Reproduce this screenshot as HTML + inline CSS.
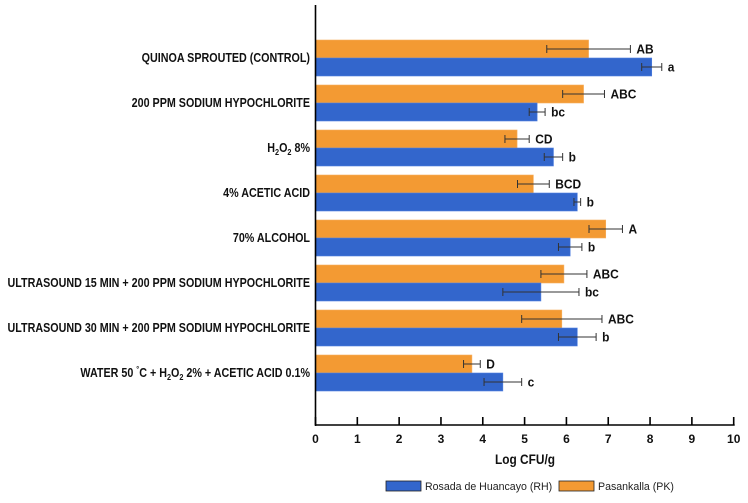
<!DOCTYPE html>
<html><head><meta charset="utf-8"><style>
body{margin:0;background:#fff;}
svg{display:block;font-family:"Liberation Sans",Arial,sans-serif;}
</style></head><body>
<svg id="chart" width="748" height="503"></svg>
<script>
const categories=["QUINOA SPROUTED (CONTROL)","200 PPM SODIUM HYPOCHLORITE","H2O2 8%","4% ACETIC ACID","70% ALCOHOL","ULTRASOUND 15 MIN + 200 PPM SODIUM HYPOCHLORITE","ULTRASOUND 30 MIN + 200 PPM SODIUM HYPOCHLORITE","WATER"];
const pkValues=[6.53,6.41,4.82,5.21,6.94,5.94,5.89,3.74];
const pkErr=[1.0,0.5,0.29,0.38,0.4,0.55,0.96,0.2];
const pkLetters=["AB","ABC","CD","BCD","A","ABC","ABC","D"];
const rhValues=[8.04,5.30,5.69,6.26,6.09,5.39,6.26,4.48];
const rhErr=[0.24,0.19,0.22,0.08,0.28,0.91,0.45,0.45];
const rhLetters=["a","bc","b","b","b","bc","b","c"];
const xTicks=[0,1,2,3,4,5,6,7,8,9,10];

const NS="http://www.w3.org/2000/svg";
const svg=document.getElementById('chart');
const x0=315.5,x1=733.7,axisY=425;
const xs=v=>x0+(x1-x0)*v/10;
const rowTop=i=>40+45*i;
function mk(tag,attrs,parent){const e=document.createElementNS(NS,tag);for(const k in attrs)e.setAttribute(k,attrs[k]);(parent||svg).appendChild(e);return e;}

function drawSeries(vals,errs,letters,off,color,stroke,name){
  vals.forEach((v,i)=>{
    const y=rowTop(i)+off;
    const r=mk('rect',{x:xs(0),y:y,width:xs(v)-xs(0),height:18,fill:color,stroke:stroke,'stroke-width':0.6});
    
    
    const lo=xs(v-errs[i]),hi=xs(v+errs[i]),cy=y+9;
    const g=mk('g',{stroke:'#333','stroke-width':1});
    
    
    mk('line',{x1:lo,x2:hi,y1:cy,y2:cy},g);
    mk('line',{x1:lo,x2:lo,y1:cy-4,y2:cy+4},g);
    mk('line',{x1:hi,x2:hi,y1:cy-4,y2:cy+4},g);
    const tg=mk('g',{transform:`translate(${hi+6},${cy+4.5}) scale(0.92,1)`});
    
    
    mk('text',{x:0,y:0,'font-size':13,'font-weight':'bold',fill:'#111'},tg).textContent=letters[i];
  });
}
drawSeries(pkValues,pkErr,pkLetters,0,'#f39a33','#f7b060','pk');
drawSeries(rhValues,rhErr,rhLetters,18,'#3366cc','#4f7fe0','rh');

const ax=mk('g',{stroke:'#000','stroke-width':1.6});


mk('line',{x1:x0,x2:x0,y1:5,y2:axisY+1},ax);
mk('line',{x1:x0,x2:x1+1,y1:axisY,y2:axisY},ax);
xTicks.forEach(t=>{
  const x=xs(t);
  mk('line',{x1:x,x2:x,y1:axisY-8,y2:axisY},ax);
  const tl=mk('text',{x:x,y:443,'text-anchor':'middle','font-size':12,'font-weight':'bold',fill:'#111'});
  tl.textContent=t;
  
  
});

categories.forEach((c,i)=>{
  const cy=rowTop(i)+18+4;
  const g=mk('g',{transform:`translate(310,${cy}) scale(0.86,1)`});
  
  
  const t=mk('text',{x:0,y:0,'text-anchor':'end','font-size':12.5,'font-weight':'bold',fill:'#111'},g);
  if(c==="H2O2 8%"){
    t.innerHTML='H<tspan font-size="8.5" dy="3">2</tspan><tspan dy="-3">O</tspan><tspan font-size="8.5" dy="3">2</tspan><tspan dy="-3"> 8%</tspan>';
  }else if(c==="WATER"){
    t.innerHTML='WATER 50 <tspan font-size="8.5" dy="-5">°</tspan><tspan dy="5">C + H</tspan><tspan font-size="8.5" dy="3">2</tspan><tspan dy="-3">O</tspan><tspan font-size="8.5" dy="3">2</tspan><tspan dy="-3"> 2% + ACETIC ACID 0.1%</tspan>';
  }else t.textContent=c;
});

const xt=mk('g',{transform:'translate(525,464) scale(0.88,1)'});


mk('text',{x:0,y:0,'text-anchor':'middle','font-size':13.5,'font-weight':'bold',fill:'#111'},xt).textContent='Log CFU/g';

function legend(x,color,label,name){
  const g=mk('g',{});
  
  
  mk('rect',{x:x,y:481,width:35,height:10,fill:color,stroke:'#222','stroke-width':0.8},g);
  mk('text',{x:x+39,y:490,'font-size':10.6,fill:'#222'},g).textContent=label;
}
legend(386,'#3366cc','Rosada de Huancayo (RH)','legend-entry-rh');
legend(559,'#f39a33','Pasankalla (PK)','legend-entry-pk');
</script>
</body></html>
